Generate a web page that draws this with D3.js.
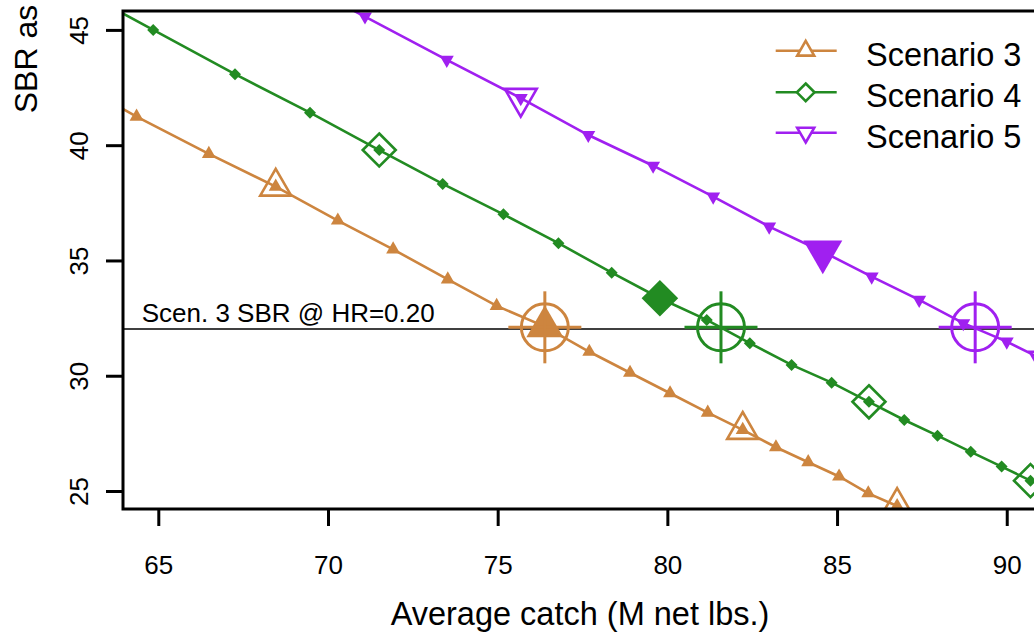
<!DOCTYPE html>
<html>
<head>
<meta charset="utf-8">
<script src="https://cdn.jsdelivr.net/npm/d3@7"></script>
<style>
  html, body { margin: 0; padding: 0; background: #fff; }
  svg { display: block; font-family: "Liberation Sans", Arial, Helvetica, sans-serif; }
</style>
</head>
<body>
<svg id="chart" width="1034" height="632"></svg>
<script>
// ---- data ----
const seriesNames = ["Scenario 3", "Scenario 4", "Scenario 5"];
const seriesColors = ["#CD853F", "#228B22", "#A020F0"];

const s3x = [62.2, 64.36, 66.49, 68.46, 70.29, 71.92, 73.53, 74.97, 76.39, 77.70, 78.90, 80.08, 81.19, 82.22, 83.20, 84.15, 85.06, 85.92, 86.77];
const s3y = [43.0, 41.24, 39.62, 38.20, 36.73, 35.48, 34.18, 33.03, 32.13, 31.04, 30.13, 29.24, 28.40, 27.65, 26.90, 26.25, 25.63, 24.90, 24.35];

const s4x = [62.4, 64.85, 67.26, 69.47, 71.51, 73.38, 75.17, 76.79, 78.36, 79.78, 81.16, 82.43, 83.66, 84.84, 85.94, 86.98, 87.96, 88.94, 89.85, 90.70];
const s4y = [46.95, 45.00, 43.08, 41.41, 39.79, 38.32, 37.00, 35.75, 34.47, 33.36, 32.42, 31.41, 30.47, 29.70, 28.87, 28.08, 27.40, 26.70, 26.06, 25.45];

const s5x = [68.7, 71.09, 73.50, 75.68, 77.67, 79.58, 81.35, 83.00, 84.58, 86.02, 87.42, 88.72, 90.00, 91.15];
const s5y = [47.4, 45.58, 43.70, 42.04, 40.44, 39.11, 37.77, 36.47, 35.38, 34.30, 33.29, 32.28, 31.48, 30.64];

// indices of highlighted points (big open / big filled markers)
const s3Open = [3, 13, 18], s3Filled = [8];
const s4Open = [4, 14, 19], s4Filled = [9];
const s5Open = [3, 13],     s5Filled = [8];

// crosshair points where each scenario reaches the reference SBR
const crossX = [76.39, 81.58, 89.07];
const crossY = [32.1, 32.1, 32.1];

const refSBR = 32.03;
const refLabel = "Scen. 3 SBR @ HR=0.20";

const xTicks = [65, 70, 75, 80, 85, 90];
const yTicks = [25, 30, 35, 40, 45];
const xTitle = "Average catch (M net lbs.)";
const yTitle = "SBR as";

// ---- layout ----
const L = 123, T = 11, R = 1040, B = 509;
const svg = d3.select("#chart");
svg.append("rect").attr("width", 1034).attr("height", 632).attr("fill", "#fff");

const x = d3.scaleLinear().domain([63.96, 90.98]).range([L, R]);
const y = d3.scaleLinear().domain([24.22, 45.82]).range([B, T]);

svg.append("defs").append("clipPath").attr("id", "plotclip")
  .append("rect").attr("x", L).attr("y", T).attr("width", R - L).attr("height", B - T);

const plot = svg.append("g").attr("clip-path", "url(#plotclip)");

// marker shapes
function triUp(w) { const h = w * Math.sqrt(3) / 2; return `M0,${-2*h/3}L${w/2},${h/3}L${-w/2},${h/3}Z`; }
function triDown(w) { const h = w * Math.sqrt(3) / 2; return `M0,${2*h/3}L${w/2},${-h/3}L${-w/2},${-h/3}Z`; }
function diamond(r) { return `M0,${-r}L${r},0L0,${r}L${-r},0Z`; }

// reference line
plot.append("line").attr("x1", L).attr("x2", R).attr("y1", y(refSBR)).attr("y2", y(refSBR))
  .attr("stroke", "#000").attr("stroke-width", 1.4);
svg.append("text").attr("x", 141.7).attr("y", 321.7).attr("font-size", 26).attr("fill", "#000").text(refLabel);

const series = [
  { xs: s3x, ys: s3y, open: s3Open, filled: s3Filled, small: () => triUp(14),   bigOpen: () => triUp(31),   bigFill: () => triUp(37),   leg: () => triUp(17) },
  { xs: s4x, ys: s4y, open: s4Open, filled: s4Filled, small: () => diamond(6),  bigOpen: () => diamond(16.5), bigFill: () => diamond(18.3), leg: () => diamond(8.8) },
  { xs: s5x, ys: s5y, open: s5Open, filled: s5Filled, small: () => triDown(14), bigOpen: () => triDown(32), bigFill: () => triDown(39), leg: () => triDown(17) }
];

const line = d3.line().x(d => x(d[0])).y(d => y(d[1]));

series.forEach((s, i) => {
  const col = seriesColors[i];
  const pts = s.xs.map((v, k) => [v, s.ys[k]]);
  const g = plot.append("g");
  g.append("path").attr("d", line(pts)).attr("fill", "none").attr("stroke", col).attr("stroke-width", 2.6);
  g.selectAll(".sm").data(pts).join("path")
    .attr("transform", d => `translate(${x(d[0])},${y(d[1])})`)
    .attr("d", s.small()).attr("fill", col);
  g.selectAll(".bo").data(s.open.map(k => pts[k])).join("path")
    .attr("transform", d => `translate(${x(d[0])},${y(d[1])})`)
    .attr("d", s.bigOpen()).attr("fill", "none").attr("stroke", col).attr("stroke-width", 2.6);
  g.selectAll(".bf").data(s.filled.map(k => pts[k])).join("path")
    .attr("transform", d => `translate(${x(d[0])},${y(d[1])})`)
    .attr("d", s.bigFill()).attr("fill", col);
});

// crosshairs
crossX.forEach((cx, i) => {
  const col = seriesColors[i];
  const g = plot.append("g").attr("transform", `translate(${x(cx)},${y(crossY[i])})`)
    .attr("stroke", col).attr("stroke-width", 3).attr("fill", "none");
  g.append("circle").attr("r", 23.5);
  g.append("line").attr("x1", -36.5).attr("x2", 36.5).attr("y1", 0).attr("y2", 0);
  g.append("line").attr("x1", 0).attr("x2", 0).attr("y1", -36).attr("y2", 36);
});

// axes
const xAxis = svg.append("g").attr("transform", `translate(0,${B})`)
  .call(d3.axisBottom(x).tickValues(xTicks).tickSize(17).tickFormat(d3.format("d")));
xAxis.select(".domain").remove();
xAxis.selectAll("line").attr("stroke", "#000").attr("stroke-width", 3);
xAxis.selectAll("text").attr("y", 65).attr("dy", 0).attr("font-size", 26)
  .attr("font-family", "Liberation Sans, Arial, sans-serif").attr("fill", "#000");

const yAxis = svg.append("g").attr("transform", `translate(${L},0)`)
  .call(d3.axisLeft(y).tickValues(yTicks).tickSize(17).tickFormat(d3.format("d")));
yAxis.select(".domain").remove();
yAxis.selectAll("line").attr("stroke", "#000").attr("stroke-width", 3);
yAxis.selectAll("text").attr("x", 0).attr("y", 0).attr("dy", 0)
  .attr("transform", "translate(-35,0) rotate(-90)").attr("text-anchor", "middle")
  .attr("font-size", 26).attr("font-family", "Liberation Sans, Arial, sans-serif").attr("fill", "#000");

// box
svg.append("rect").attr("x", L).attr("y", T).attr("width", R - L).attr("height", B - T)
  .attr("fill", "none").attr("stroke", "#000").attr("stroke-width", 3);

// titles
svg.append("text").attr("x", 580).attr("y", 625).attr("text-anchor", "middle").attr("font-size", 32.5)
  .attr("fill", "#000").text(xTitle);
svg.append("text").attr("transform", "translate(37,113.3) rotate(-90)").attr("text-anchor", "start")
  .attr("font-size", 32).attr("fill", "#000").text(yTitle);

// legend
const legRows = [50.7, 92.3, 132.7];
seriesNames.forEach((name, i) => {
  const col = seriesColors[i];
  const g = svg.append("g").attr("transform", `translate(0,${legRows[i]})`);
  g.append("line").attr("x1", 775.7).attr("x2", 836.7).attr("y1", 0).attr("y2", 0)
    .attr("stroke", col).attr("stroke-width", 2.6);
  g.append("path").attr("transform", "translate(805.7,0)").attr("d", series[i].leg())
    .attr("fill", "#fff").attr("stroke", col).attr("stroke-width", 2.6);
  g.append("text").attr("x", 866).attr("y", 15).attr("font-size", 32.5).attr("fill", "#000").text(name);
});
</script>
</body>
</html>
